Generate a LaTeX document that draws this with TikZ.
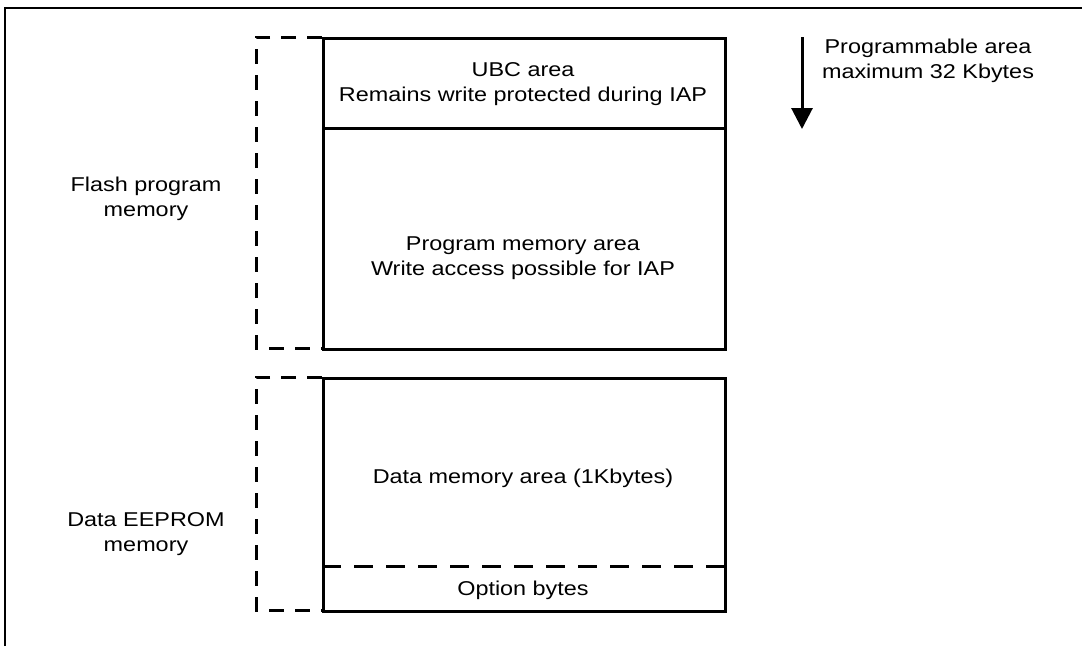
\documentclass[tikz,border=0pt]{standalone}
\usepackage{fontspec}
\setmainfont{Liberation Sans}[FakeStretch=1.17]
\usetikzlibrary{arrows.meta}

\begin{document}
\begin{tikzpicture}[x=1pt,y=-1pt,
    txt/.style={align=center,font=\fontsize{20}{25.5}\selectfont,inner sep=0pt},
    area/.style={draw,line width=3pt},
    bracket/.style={line width=3pt,dash pattern=on 15pt off 11pt}]
    \useasboundingbox (0,0) rectangle (1082,646);

    % Outer frame (cut by the page)
    \draw[line width=2pt] (5,646) -- (5,8) -- (1082,8);

    % Flash program memory
    \node[area,minimum width=402pt,minimum height=90pt,anchor=north west] (ubc) at (322,37) {};
    \node[area,minimum width=402pt,minimum height=221pt,anchor=north west] (prog) at (322,127) {};
    \node[txt] (ubctxt) at (523,84) {UBC area\\Remains write protected during IAP};
    \node[txt] (progtxt) at (523,258) {Program memory area\\Write access possible for IAP};

    % Data EEPROM memory
    \node[area,minimum width=402pt,minimum height=233pt,anchor=north west] (data) at (322,377) {};
    \coordinate (optl) at (322,566);
    \coordinate (optr) at (724,566);
    \draw[line width=3pt,dash pattern=on 19pt off 13pt] (optl) -- (optr);
    \node[txt] (datatxt) at (523,478) {Data memory area (1Kbytes)};
    \node[txt] (opttxt) at (523,590) {Option bytes};

    % Dashed brackets
    \draw[bracket] (322,37) -- (256,37) -- (256,348) -- (322,348);
    \draw[bracket] (322,377) -- (256,377) -- (256,610) -- (322,610);
    \node[txt] (flash) at (146,199) {Flash program\\memory};
    \node[txt] (eeprom) at (146,534) {Data EEPROM\\memory};

    % Programmable area arrow
    \coordinate (atop) at (802,37);
    \coordinate (abot) at (802,129);
    \draw[line width=3pt,-{Triangle[length=21pt,width=21pt]}] (atop) -- (abot);
    \node[txt] (maxtxt) at (928,61) {Programmable area\\maximum 32 Kbytes};
\end{tikzpicture}
\end{document}
